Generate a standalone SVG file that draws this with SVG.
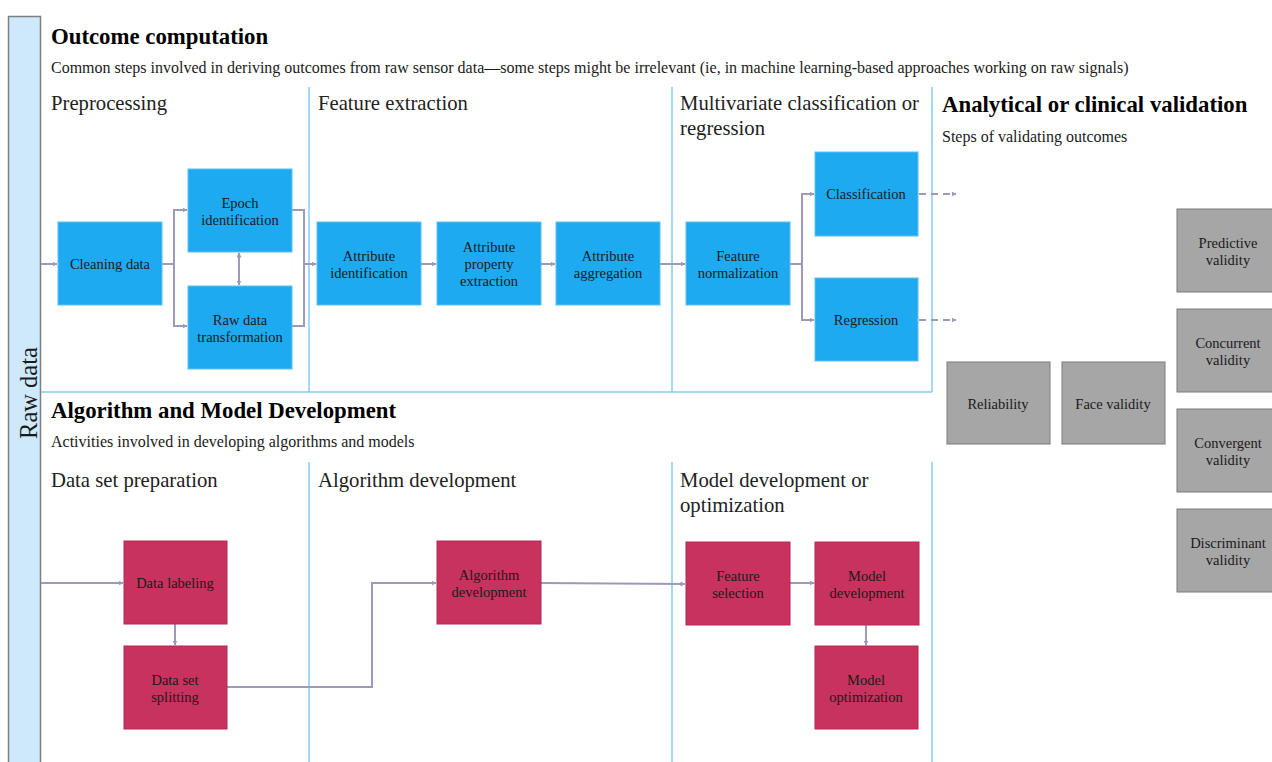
<svg xmlns="http://www.w3.org/2000/svg" width="1272" height="762" viewBox="0 0 1272 762" font-family="'Liberation Serif', 'DejaVu Serif', 'Times New Roman', serif">
  <style>
    text { font-family: "Liberation Serif", "DejaVu Serif", "Times New Roman", serif; fill: #1a1a1a; }
    .title { font-size: 22.8px; font-weight: bold; fill: #000; }
    .sub { font-size: 16px; }
    .head { font-size: 20.7px; fill: #222; }
    .lbl { font-size: 14.5px; text-anchor: middle; }
    .blue { fill: #1eaaf0; stroke: #5cc0f2; stroke-width: 1; }
    .red { fill: #c8325e; stroke: #b02a52; stroke-width: 1; }
    .grey { fill: #a6a6a6; stroke: #7a7a7a; stroke-width: 1; }
    .sep { stroke: #82cdf3; stroke-width: 1.5; fill: none; }
    .conn { stroke: #9c9ab8; stroke-width: 2; fill: none; }
    .dash { stroke-dasharray: 7 5; }
  </style>
  <defs>
    <marker id="arr" viewBox="0 0 10 10" refX="9" refY="5" markerWidth="5" markerHeight="5" orient="auto-start-reverse" markerUnits="userSpaceOnUse">
      <path d="M0,0 L10,5 L0,10 z" fill="#9c9ab8"/>
    </marker>
  </defs>

  <rect width="1272" height="762" fill="#fff"/>

  <!-- Raw data bar -->
  <g id="raw-data">
    <rect x="8.5" y="16.5" width="32" height="760" fill="#cde9fb" stroke="#7f7f7f" stroke-width="1.5"/>
    <text transform="translate(37,393) rotate(-90)" text-anchor="middle" style="font-size:24.5px">Raw data</text>
  </g>

  <!-- Section separators -->
  <g id="separators">
    <path class="sep" d="M309,87 V392 M672,87 V392 M932,87 V392 M41,392 H932"/>
    <path class="sep" d="M309,462 V762 M672,462 V762 M932,462 V762"/>
  </g>

  <!-- Section titles and headings -->
  <g id="headings">
    <text class="title" x="51" y="44">Outcome computation</text>
    <text class="sub" x="51" y="73">Common steps involved in deriving outcomes from raw sensor data—some steps might be irrelevant (ie, in machine learning-based approaches working on raw signals)</text>
    <text class="head" x="51" y="110">Preprocessing</text>
    <text class="head" x="318" y="110">Feature extraction</text>
    <text class="head" x="680" y="110">Multivariate classification or</text>
    <text class="head" x="680" y="135">regression</text>
    <text class="title" x="942" y="112">Analytical or clinical validation</text>
    <text class="sub" x="942" y="142">Steps of validating outcomes</text>
    <text class="title" x="51" y="418">Algorithm and Model Development</text>
    <text class="sub" x="51" y="447">Activities involved in developing algorithms and models</text>
    <text class="head" x="51" y="487">Data set preparation</text>
    <text class="head" x="318" y="487">Algorithm development</text>
    <text class="head" x="680" y="487">Model development or</text>
    <text class="head" x="680" y="512">optimization</text>
  </g>

  <!-- Connectors -->
  <g id="connectors">
    <path class="conn" d="M41,264 H57" marker-end="url(#arr)"/>
    <path class="conn" d="M162,264 H174 V210 H187" marker-end="url(#arr)"/>
    <path class="conn" d="M174,264 V326 H187" marker-end="url(#arr)"/>
    <path class="conn" d="M239,253 V285" marker-start="url(#arr)" marker-end="url(#arr)"/>
    <path class="conn" d="M292,210 H304 V326 H292"/>
    <path class="conn" d="M304,264 H316" marker-end="url(#arr)"/>
    <path class="conn" d="M421,264 H436" marker-end="url(#arr)"/>
    <path class="conn" d="M541,264 H555" marker-end="url(#arr)"/>
    <path class="conn" d="M660,264 H685" marker-end="url(#arr)"/>
    <path class="conn" d="M790,264 H802 V194 H814" marker-end="url(#arr)"/>
    <path class="conn" d="M802,264 V320 H814" marker-end="url(#arr)"/>
    <path class="conn dash" d="M919,194 H956" marker-end="url(#arr)"/>
    <path class="conn dash" d="M919,320 H956" marker-end="url(#arr)"/>
    <path class="conn" d="M41,583 H123" marker-end="url(#arr)"/>
    <path class="conn" d="M175,624 V645" marker-end="url(#arr)"/>
    <path class="conn" d="M227,687 H372 V583 H436" marker-end="url(#arr)"/>
    <path class="conn" d="M541,583 L685,584" marker-end="url(#arr)"/>
    <path class="conn" d="M790,583 H814" marker-end="url(#arr)"/>
    <path class="conn" d="M866,625 V645" marker-end="url(#arr)"/>
  </g>

  <!-- Outcome computation steps -->
  <g id="cleaning-data"><rect class="blue" x="58" y="222" width="104" height="83"/><text class="lbl" x="110" y="269">Cleaning data</text></g>
  <g id="epoch-identification"><rect class="blue" x="188" y="169" width="104" height="83"/><text class="lbl" x="240" y="208">Epoch</text><text class="lbl" x="240" y="225">identification</text></g>
  <g id="raw-data-transformation"><rect class="blue" x="188" y="286" width="104" height="83"/><text class="lbl" x="240" y="325">Raw data</text><text class="lbl" x="240" y="342">transformation</text></g>
  <g id="attribute-identification"><rect class="blue" x="317" y="222" width="104" height="83"/><text class="lbl" x="369" y="261">Attribute</text><text class="lbl" x="369" y="278">identification</text></g>
  <g id="attribute-property-extraction"><rect class="blue" x="437" y="222" width="104" height="83"/><text class="lbl" x="489" y="252">Attribute</text><text class="lbl" x="489" y="269">property</text><text class="lbl" x="489" y="286">extraction</text></g>
  <g id="attribute-aggregation"><rect class="blue" x="556" y="222" width="104" height="83"/><text class="lbl" x="608" y="261">Attribute</text><text class="lbl" x="608" y="278">aggregation</text></g>
  <g id="feature-normalization"><rect class="blue" x="686" y="222" width="104" height="83"/><text class="lbl" x="738" y="261">Feature</text><text class="lbl" x="738" y="278">normalization</text></g>
  <g id="classification"><rect class="blue" x="815" y="152" width="103" height="84"/><text class="lbl" x="866" y="199">Classification</text></g>
  <g id="regression"><rect class="blue" x="815" y="278" width="103" height="83"/><text class="lbl" x="866" y="325">Regression</text></g>

  <!-- Validation steps -->
  <g id="reliability"><rect class="grey" x="947" y="362" width="103" height="82"/><text class="lbl" x="998" y="409">Reliability</text></g>
  <g id="face-validity"><rect class="grey" x="1062" y="362" width="103" height="82"/><text class="lbl" x="1113" y="409">Face validity</text></g>
  <g id="predictive-validity"><rect class="grey" x="1177" y="209" width="103" height="83"/><text class="lbl" x="1228" y="248">Predictive</text><text class="lbl" x="1228" y="265">validity</text></g>
  <g id="concurrent-validity"><rect class="grey" x="1177" y="309" width="103" height="83"/><text class="lbl" x="1228" y="348">Concurrent</text><text class="lbl" x="1228" y="365">validity</text></g>
  <g id="convergent-validity"><rect class="grey" x="1177" y="409" width="103" height="83"/><text class="lbl" x="1228" y="448">Convergent</text><text class="lbl" x="1228" y="465">validity</text></g>
  <g id="discriminant-validity"><rect class="grey" x="1177" y="509" width="103" height="83"/><text class="lbl" x="1228" y="548">Discriminant</text><text class="lbl" x="1228" y="565">validity</text></g>

  <!-- Algorithm and model development steps -->
  <g id="data-labeling"><rect class="red" x="124" y="541" width="103" height="83"/><text class="lbl" x="175" y="588">Data labeling</text></g>
  <g id="data-set-splitting"><rect class="red" x="124" y="646" width="103" height="83"/><text class="lbl" x="175" y="685">Data set</text><text class="lbl" x="175" y="702">splitting</text></g>
  <g id="algorithm-development"><rect class="red" x="437" y="541" width="104" height="83"/><text class="lbl" x="489" y="580">Algorithm</text><text class="lbl" x="489" y="597">development</text></g>
  <g id="feature-selection"><rect class="red" x="686" y="542" width="104" height="83"/><text class="lbl" x="738" y="581">Feature</text><text class="lbl" x="738" y="598">selection</text></g>
  <g id="model-development"><rect class="red" x="815" y="542" width="104" height="83"/><text class="lbl" x="867" y="581">Model</text><text class="lbl" x="867" y="598">development</text></g>
  <g id="model-optimization"><rect class="red" x="815" y="646" width="103" height="83"/><text class="lbl" x="866" y="685">Model</text><text class="lbl" x="866" y="702">optimization</text></g>
</svg>
